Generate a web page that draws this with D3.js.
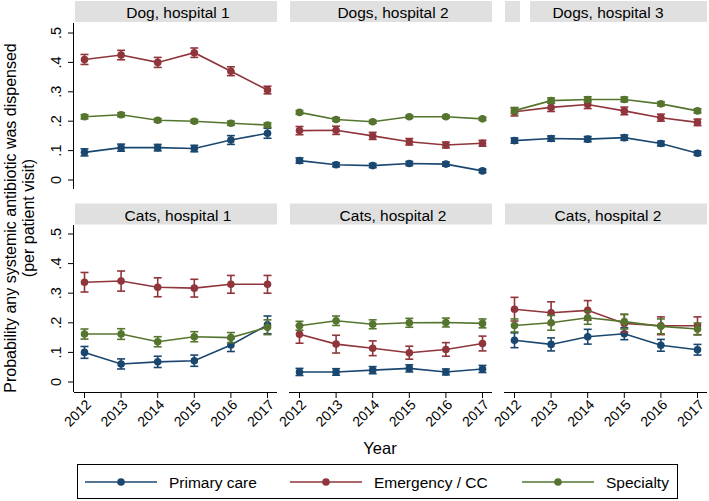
<!DOCTYPE html>
<html><head><meta charset="utf-8">
<script src="https://cdn.jsdelivr.net/npm/d3@7"></script>
<style>
html,body{margin:0;padding:0;background:#fff;}
svg text{font-family:"Liberation Sans",Arial,sans-serif;fill:#000;}
</style></head>
<body><svg id="chart" width="709" height="501"></svg>
<script>
const years = [2012, 2013, 2014, 2015, 2016, 2017];
const panelTitles = ["Dog, hospital 1", "Dogs, hospital 2", "Dogs, hospital 3",
                     "Cats, hospital 1", "Cats, hospital 2", "Cats, hospital 2"];
const seriesNames = ["Primary care", "Emergency / CC", "Specialty"];
const yTicks = [0, 0.1, 0.2, 0.3, 0.4, 0.5];
const yTickLabels = ["0", ".1", ".2", ".3", ".4", ".5"];

// per panel: values and CI half-widths
const primaryCare = [
  [0.094,0.110,0.110,0.107,0.136,0.159],
  [0.066,0.052,0.049,0.056,0.054,0.031],
  [0.134,0.141,0.139,0.144,0.124,0.091],
  [0.100,0.061,0.068,0.072,0.125,0.193],
  [0.034,0.034,0.040,0.046,0.034,0.044],
  [0.141,0.127,0.153,0.163,0.124,0.109]
];
const primaryCareErr = [
  [0.012,0.012,0.011,0.011,0.015,0.017],
  [0.009,0.007,0.007,0.007,0.007,0.006],
  [0.009,0.009,0.009,0.009,0.008,0.007],
  [0.020,0.017,0.019,0.019,0.022,0.030],
  [0.012,0.011,0.012,0.012,0.010,0.012],
  [0.025,0.022,0.025,0.020,0.020,0.018]
];
const emergency = [
  [0.410,0.425,0.400,0.433,0.370,0.306],
  [0.168,0.169,0.150,0.130,0.119,0.125],
  [0.232,0.247,0.257,0.235,0.212,0.196],
  [0.337,0.341,0.320,0.317,0.330,0.330],
  [0.161,0.128,0.114,0.099,0.110,0.130],
  [0.246,0.234,0.242,0.198,0.190,0.190]
];
const emergencyErr = [
  [0.017,0.016,0.017,0.016,0.015,0.013],
  [0.014,0.014,0.012,0.011,0.010,0.010],
  [0.014,0.014,0.014,0.013,0.012,0.011],
  [0.033,0.034,0.032,0.030,0.030,0.030],
  [0.030,0.030,0.025,0.022,0.023,0.025],
  [0.040,0.037,0.033,0.030,0.030,0.030]
];
const specialty = [
  [0.215,0.222,0.203,0.200,0.193,0.187],
  [0.230,0.206,0.198,0.215,0.215,0.208],
  [0.236,0.270,0.274,0.274,0.259,0.235],
  [0.162,0.162,0.136,0.153,0.150,0.185],
  [0.190,0.207,0.195,0.200,0.201,0.198],
  [0.191,0.200,0.217,0.204,0.188,0.179]
];
const specialtyErr = [
  [0.007,0.007,0.006,0.006,0.007,0.007],
  [0.006,0.006,0.005,0.005,0.005,0.005],
  [0.010,0.009,0.009,0.008,0.007,0.007],
  [0.017,0.018,0.017,0.017,0.017,0.025],
  [0.015,0.016,0.015,0.015,0.015,0.015],
  [0.022,0.025,0.022,0.025,0.025,0.020]
];

const colors = ["#1a476f", "#90353b", "#55752f"];
const seriesVals = [primaryCare, emergency, specialty];
const seriesErrs = [primaryCareErr, emergencyErr, specialtyErr];

const svg = d3.select("#chart");
const colLeft = [75, 290, 505];
const colW = 202;
const rows = [
  {stripY: 1, stripH: 21, y0: 180, y5: 33, axTop: 23, axBot: 189},
  {stripY: 203.5, stripH: 21, y0: 382, y5: 234, axTop: 225, axBot: 392}
];

panelTitles.forEach((title, p) => {
  const r = Math.floor(p / 3), c = p % 3;
  const R = rows[r];
  const left = colLeft[c];
  const x = d3.scaleLinear().domain([years[0], years[years.length-1]]).range([left + 9.5, left + 192.5]);
  const y = d3.scaleLinear().domain([0, 0.5]).range([R.y0, R.y5]);
  const g = svg.append("g");

  // strip
  g.append("rect").attr("x", left).attr("y", R.stripY).attr("width", colW).attr("height", R.stripH)
    .attr("fill", "#e0e0e0");
  if (p === 2) {
    g.append("rect").attr("x", left + 15).attr("y", R.stripY).attr("width", 10).attr("height", R.stripH).attr("fill", "#fff");
  }
  g.append("text").attr("x", left + colW / 2 + 2).attr("y", R.stripY + 17)
    .attr("text-anchor", "middle").style("font-size", "15.5px").text(title);

  // y axis (first column only)
  if (c === 0) {
    const ya = g.append("g");
    ya.append("line").attr("x1", 73.5).attr("x2", 73.5).attr("y1", R.axTop).attr("y2", R.axBot)
      .attr("stroke", "#000").attr("stroke-width", 1);
    yTicks.forEach((t, i) => {
      ya.append("line").attr("x1", 68).attr("x2", 73.5).attr("y1", y(t)).attr("y2", y(t))
        .attr("stroke", "#000").attr("stroke-width", 1);
      ya.append("text").attr("transform", `translate(61,${y(t)}) rotate(-90)`)
        .attr("text-anchor", "middle").style("font-size", "14.5px").text(yTickLabels[i]);
    });
  }

  // x axis (bottom row only)
  if (r === 1) {
    const xa = g.append("g");
    xa.append("line").attr("x1", left - 1).attr("x2", left + colW).attr("y1", 392.5).attr("y2", 392.5)
      .attr("stroke", "#000").attr("stroke-width", 1);
    years.forEach(yr => {
      xa.append("line").attr("x1", x(yr)).attr("x2", x(yr)).attr("y1", 392.5).attr("y2", 398)
        .attr("stroke", "#000").attr("stroke-width", 1);
      xa.append("text").attr("transform", `translate(${x(yr) + 4},${402}) rotate(-45)`)
        .attr("text-anchor", "end").attr("dy", "0.35em").style("font-size", "14px").text(yr);
    });
  }

  // series
  seriesVals.forEach((vals, s) => {
    const v = vals[p], e = seriesErrs[s][p];
    const col = colors[s];
    const line = d3.line().x((d, i) => x(years[i])).y(d => y(d));
    g.append("path").attr("d", line(v)).attr("fill", "none").attr("stroke", col).attr("stroke-width", 1.6);
    v.forEach((val, i) => {
      const cx = x(years[i]);
      const lo = y(val - e[i]), hi = y(val + e[i]);
      g.append("line").attr("x1", cx).attr("x2", cx).attr("y1", lo).attr("y2", hi)
        .attr("stroke", col).attr("stroke-width", 1.6);
      [lo, hi].forEach(yy => g.append("line").attr("x1", cx - 4).attr("x2", cx + 4).attr("y1", yy).attr("y2", yy)
        .attr("stroke", col).attr("stroke-width", 1.6));
      g.append("circle").attr("cx", cx).attr("cy", y(val)).attr("r", 3.8).attr("fill", col);
    });
  });
});

// axis titles
svg.append("text").attr("transform", "translate(16,218) rotate(-90)").attr("text-anchor", "middle")
  .style("font-size", "16px").text("Probability any systemic antibiotic was dispensed");
svg.append("text").attr("transform", "translate(34,218) rotate(-90)").attr("text-anchor", "middle")
  .style("font-size", "16px").text("(per patient visit)");
svg.append("text").attr("x", 380).attr("y", 454).attr("text-anchor", "middle")
  .style("font-size", "16.5px").text("Year");

// legend
const leg = svg.append("g");
leg.append("rect").attr("x", 77.5).attr("y", 464.5).attr("width", 600).attr("height", 34)
  .attr("fill", "#fff").attr("stroke", "#000").attr("stroke-width", 1);
const legX = [85, 290, 522];
seriesNames.forEach((name, s) => {
  const lx = legX[s];
  leg.append("line").attr("x1", lx).attr("x2", lx + 72).attr("y1", 482).attr("y2", 482)
    .attr("stroke", colors[s]).attr("stroke-width", 1.6);
  leg.append("circle").attr("cx", lx + 36).attr("cy", 482).attr("r", 3.8).attr("fill", colors[s]);
  leg.append("text").attr("x", lx + 84).attr("y", 487.5).style("font-size", "15.5px").text(name);
});
</script></body></html>
